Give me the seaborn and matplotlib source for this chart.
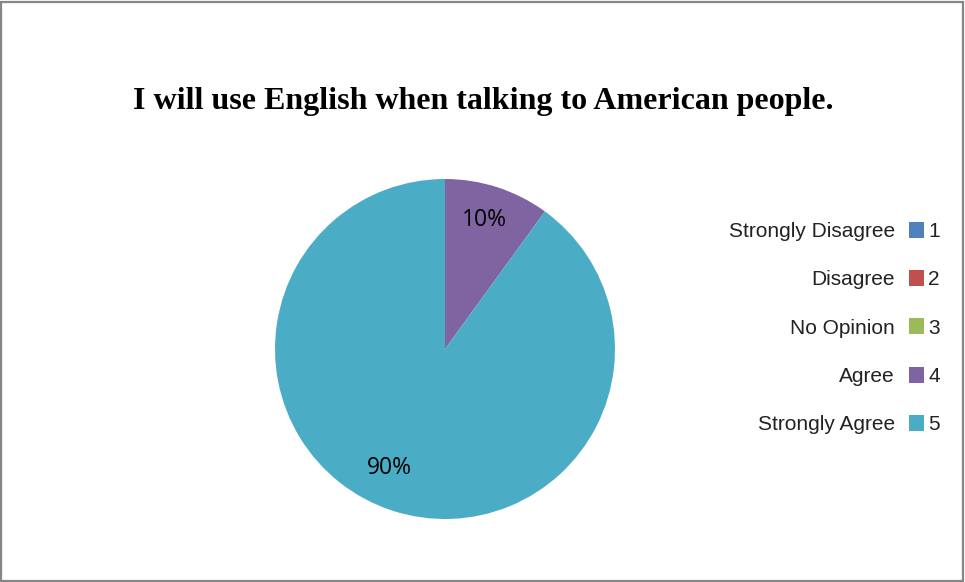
import matplotlib
matplotlib.use("Agg")
import matplotlib.pyplot as plt
from matplotlib.patches import Patch, Rectangle
import seaborn as sns

# Survey responses
codes = ["1", "2", "3", "4", "5"]
responses = ["Strongly Disagree", "Disagree", "No Opinion", "Agree", "Strongly Agree"]
shares = [0, 0, 0, 10, 90]
title = "I will use English when talking to American people."

sns.set_theme(style="white")
palette = sns.color_palette(["#4F81BD", "#C0504D", "#9BBB59", "#8064A2", "#4BACC6"])

W, H = 965, 582
fig = plt.figure(figsize=(W / 100, H / 100), dpi=100)
fig.patch.set_facecolor("white")

# outer frame
fig.patches.append(Rectangle((1 / W, 1 / H), (W - 3) / W, (H - 3) / H,
                             transform=fig.transFigure, fill=False,
                             edgecolor="#868686", linewidth=1.6, zorder=10))

fig.text(483 / W, 1 - 101 / H, title, ha="center", va="center",
         fontsize=23, fontweight="bold", family="Liberation Serif", color="black")

ax = fig.add_axes([275 / W, 63 / H, 340 / W, 340 / H])
wedges, _ = ax.pie(shares, colors=palette, startangle=90, counterclock=False,
                   radius=1.0, wedgeprops=dict(linewidth=0))
ax.set_xlim(-1, 1)
ax.set_ylim(-1, 1)
ax.set_aspect("equal")
ax.axis("off")

# percentage labels for non-empty slices
label_pos = {3: (0.23, 0.76), 4: (-0.33, -0.7)}
for i, v in enumerate(shares):
    if v > 0:
        x, y = label_pos[i]
        ax.text(x, y, f"{v}%", ha="center", va="center", fontsize=16.5,
                family="Open Sans", color="black")

handles = [Patch(facecolor=c, edgecolor="none") for c in palette]
leg = fig.legend(handles, codes, loc="center left",
                 bbox_to_anchor=(909 / W, 1 - 328 / H), frameon=False,
                 prop={"family": "Liberation Sans", "size": 15},
                 handlelength=0.72, handleheight=0.8, handletextpad=0.2,
                 labelspacing=1.4, borderpad=0, borderaxespad=0)
for t in leg.get_texts():
    t.set_color("#222222")

fig.canvas.draw()
renderer = fig.canvas.get_renderer()
inv = fig.transFigure.inverted()
for patch, txt, name in zip(leg.get_patches(), leg.get_texts(), responses):
    pb = patch.get_window_extent(renderer)
    tb = txt.get_window_extent(renderer)
    x0 = pb.x0 - 14
    yc = (tb.y0 + tb.y1) / 2
    fx, fy = inv.transform((x0, yc))
    fig.text(fx, fy, name, ha="right", va="center", fontsize=15,
             family="Liberation Sans", color="#222222")

fig.savefig("out.png", dpi=100)
